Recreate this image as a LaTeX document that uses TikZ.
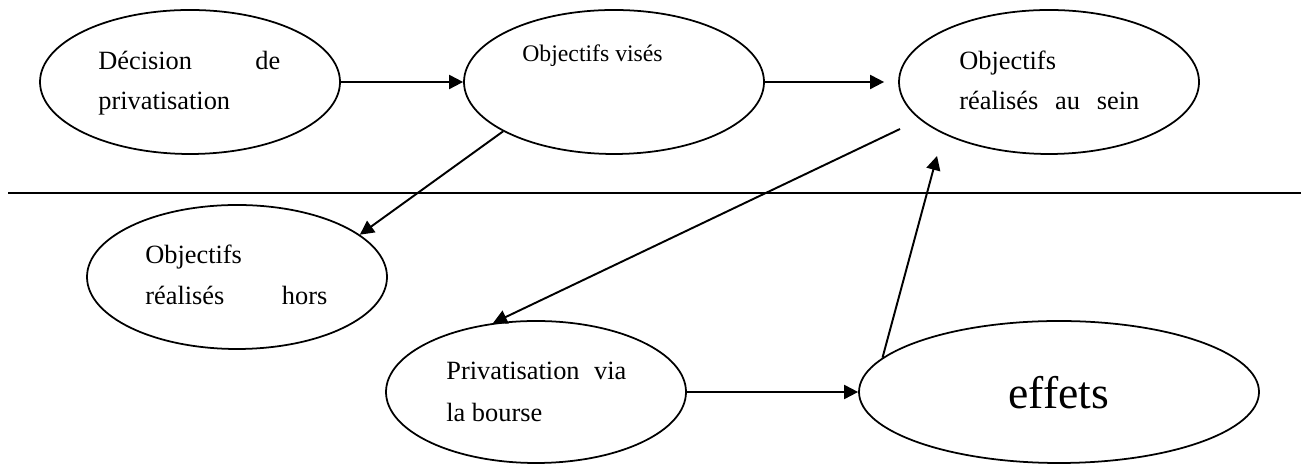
\documentclass[tikz,border=0pt]{standalone}
\usepackage{fontspec}
\setmainfont{Liberation Serif}
\usetikzlibrary{shapes.geometric,arrows.meta}

\begin{document}
\begin{tikzpicture}[
  bulle/.style={draw, ellipse, line width=1pt, inner sep=0pt, minimum width=6cm, minimum height=2.88cm},
  fleche/.style={-{Triangle[length=8pt,width=8pt]}, line width=1.1pt},
  txt/.style={anchor=base west, inner sep=0pt, font=\fontsize{15}{18}\selectfont},
]
\useasboundingbox (0, 0) rectangle (26.02, 9.28);

% ellipses
\node [bulle] (decision) at (3.8, 7.64) {};
\node [bulle] (vises) at (12.28, 7.64) {};
\node [bulle] (sein) at (20.98, 7.64) {};
\node [bulle] (hors) at (4.74, 3.74) {};
\node [bulle, minimum height=2.84cm] (bourse) at (10.72, 1.44) {};
\node [bulle, minimum width=8cm, minimum height=2.84cm] (effets) at (21.18, 1.44) {};

% textes
\node [txt] (decision1) at (1.96, 7.88) {\hbox to 3.64cm{Décision\hfill de}};
\node [txt] (decision2) at (1.96, 7.08) {privatisation};
\node [txt, font=\fontsize{13.5}{16}\selectfont] (vises1) at (10.44, 8.04) {Objectifs visés};
\node [txt] (sein1) at (19.18, 7.88) {Objectifs};
\node [txt] (sein2) at (19.18, 7.08) {\hbox to 3.6cm{réalisés\hfill au\hfill sein}};
\node [txt] (hors1) at (2.9, 4.0) {Objectifs};
\node [txt] (hors2) at (2.9, 3.18) {\hbox to 3.64cm{réalisés\hfill hors}};
\node [txt] (bourse1) at (8.92, 1.68) {\hbox to 3.6cm{Privatisation\hfill via}};
\node [txt] (bourse2) at (8.92, 0.84) {la bourse};
\node [txt, font=\fontsize{26}{30}\selectfont] (effets1) at (20.16, 1.1) {effets};

% separation
\draw [line width=1.1pt] (0.16, 5.42) -- (26.02, 5.42);

% fleches
\coordinate (depart) at (18.0, 6.70);
\coordinate (pointe) at (18.74, 6.16);
\draw [fleche] (decision.east) -- (vises.west);
\draw [fleche, shorten >=0.28cm] (vises.east) -- (sein.west);
\draw [fleche] (vises.204) -- (hors.19);
\draw [fleche] (depart) -- (bourse.122);
\draw [fleche] (effets.169) -- (pointe);
\draw [fleche] (bourse.east) -- (effets.west);
\end{tikzpicture}
\end{document}
